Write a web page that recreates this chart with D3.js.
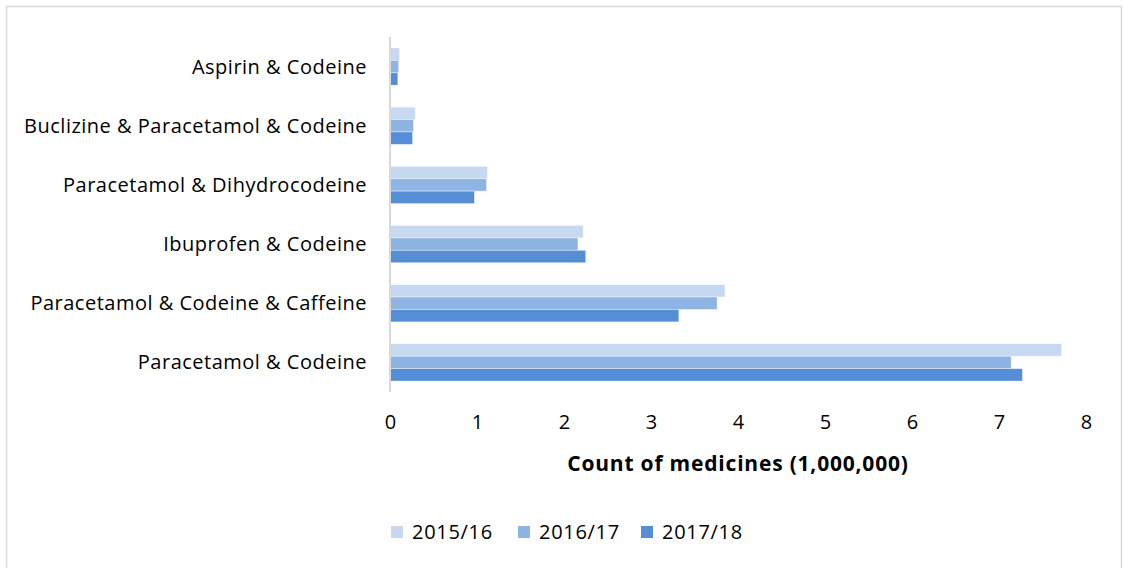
<!DOCTYPE html>
<html>
<head>
<meta charset="utf-8">
<script src="https://cdn.jsdelivr.net/npm/d3@7"></script>
<style>
  html, body { margin: 0; padding: 0; background: #fff; }
  svg { display: block; }
  text { font-family: "Open Sans", Lato, sans-serif; fill: #000; }
</style>
</head>
<body>
<svg id="chart" width="1123" height="568"></svg>
<script>
// Medicines containing codeine, counts in millions
const categories = [
  "Aspirin & Codeine",
  "Buclizine & Paracetamol & Codeine",
  "Paracetamol & Dihydrocodeine",
  "Ibuprofen & Codeine",
  "Paracetamol & Codeine & Caffeine",
  "Paracetamol & Codeine"
];
const seriesNames = ["2015/16", "2016/17", "2017/18"];
const values2015 = [0.11, 0.29, 1.12, 2.22, 3.85, 7.72];
const values2016 = [0.10, 0.27, 1.11, 2.16, 3.76, 7.14];
const values2017 = [0.09, 0.26, 0.97, 2.25, 3.32, 7.27];
const xTicks = [0, 1, 2, 3, 4, 5, 6, 7, 8];
const xTitle = "Count of medicines (1,000,000)";

const seriesValues = [values2015, values2016, values2017];
const colors = ["#C6D9F1", "#8EB4E3", "#558ED5"];
const fontStack = "'Open Sans', Lato, sans-serif";

const svg = d3.select("#chart");

// outer frame
svg.append("rect")
  .attr("x", 6.5).attr("y", 6.5)
  .attr("width", 1115).attr("height", 580)
  .attr("fill", "none").attr("stroke", "#D9D9D9").attr("stroke-width", 1.5);

const plot = { left: 390, right: 1086, top: 37, bottom: 392 };

const x = d3.scaleLinear().domain([0, 8]).range([plot.left, plot.right]);
const y = d3.scaleBand().domain(categories).range([plot.top, plot.bottom]).paddingInner(0.37).paddingOuter(0.185);
const ySub = d3.scaleBand().domain(seriesNames).range([0, y.bandwidth()]);

// bars
const groups = svg.append("g").selectAll("g")
  .data(categories)
  .join("g")
  .attr("transform", d => `translate(0,${y(d)})`);

groups.selectAll("rect")
  .data((d, i) => seriesNames.map((s, j) => ({ s, v: seriesValues[j][i], c: colors[j] })))
  .join("rect")
  .attr("x", x(0))
  .attr("y", d => ySub(d.s))
  .attr("width", d => x(d.v) - x(0))
  .attr("height", ySub.bandwidth())
  .attr("fill", d => d.c)
  .attr("stroke", "#ffffff")
  .attr("stroke-opacity", 0.5)
  .attr("stroke-width", 0.8);

// vertical category axis line
svg.append("line")
  .attr("x1", plot.left).attr("x2", plot.left)
  .attr("y1", plot.top).attr("y2", plot.bottom)
  .attr("stroke", "#D9D9D9").attr("stroke-width", 2);

// category labels
const yAxis = d3.axisLeft(y).tickSize(0).tickPadding(23);
const yg = svg.append("g").attr("transform", `translate(${plot.left},0)`).call(yAxis);
yg.select(".domain").remove();
yg.selectAll("text")
  .attr("font-size", 20)
  .attr("letter-spacing", 0.5)
  .attr("font-family", fontStack)
  .attr("fill", "#000")
  .attr("dy", "0.35em");

// value axis tick labels
const xAxis = d3.axisBottom(x).tickValues(xTicks).tickSize(0).tickPadding(0).tickFormat(d3.format("d"));
const xg = svg.append("g").attr("transform", `translate(0,${plot.bottom + 23})`).call(xAxis);
xg.select(".domain").remove();
xg.selectAll("text")
  .attr("font-size", 20)
  .attr("font-family", fontStack)
  .attr("fill", "#000")
  .attr("dy", "0.71em");

// axis title
svg.append("text")
  .attr("x", 738)
  .attr("y", 471)
  .attr("text-anchor", "middle")
  .attr("font-size", 21)
  .attr("letter-spacing", 0.8)
  .attr("font-weight", "bold")
  .text(xTitle);

// legend
const legendX = [391, 518, 641];
const legend = svg.append("g").selectAll("g")
  .data(seriesNames)
  .join("g")
  .attr("transform", (d, i) => `translate(${legendX[i]},526)`);
legend.append("rect")
  .attr("width", 12).attr("height", 12)
  .attr("fill", (d, i) => colors[i]);
legend.append("text")
  .attr("x", 21).attr("y", 6)
  .attr("dy", "0.35em")
  .attr("font-size", 20)
  .attr("letter-spacing", 0.7)
  .text(d => d);
</script>
</body>
</html>
